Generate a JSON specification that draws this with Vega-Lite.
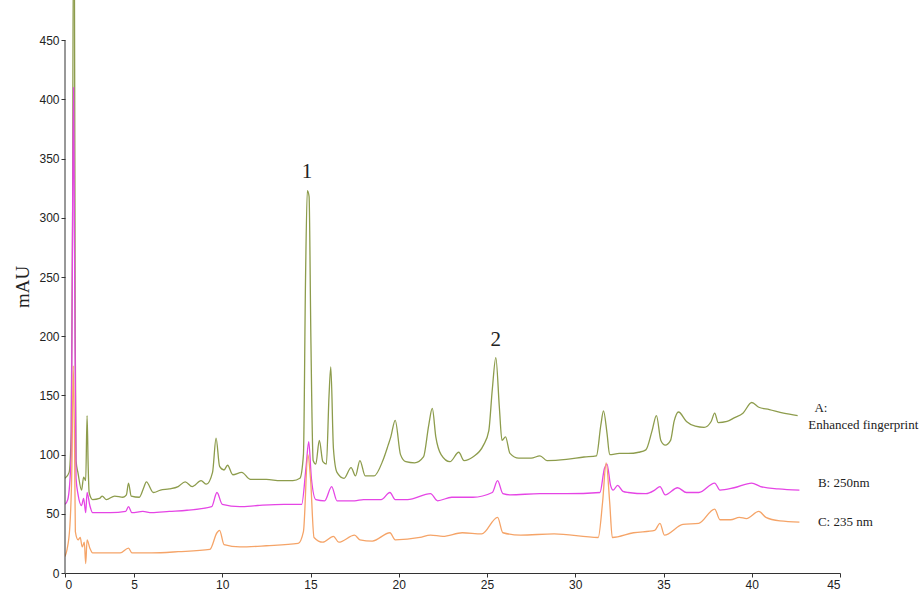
{
  "$schema": "https://vega.github.io/schema/vega-lite/v6.json",
  "width": 775,
  "height": 573,
  "autosize": "none",
  "padding": {"left": 65, "top": 0, "right": 84, "bottom": 19},
  "background": "white",
  "config": {"view": {"stroke": null}, "font": "Liberation Sans"},
  "datasets": {
    "traces": [
      {"s":"A","t":0,"v":80},{"s":"A","t":0.3,"v":85},{"s":"A","t":0.45,"v":120},{"s":"A","t":0.55,"v":300},{"s":"A","t":0.6,"v":520},{"s":"A","t":0.68,"v":520},{"s":"A","t":0.74,"v":200},{"s":"A","t":0.8,"v":95},{"s":"A","t":0.95,"v":84},{"s":"A","t":1.2,"v":70},{"s":"A","t":1.35,"v":81},{"s":"A","t":1.5,"v":78},{"s":"A","t":1.6,"v":133},{"s":"A","t":1.68,"v":90},{"s":"A","t":1.75,"v":68},{"s":"A","t":2,"v":62},{"s":"A","t":2.5,"v":63},{"s":"A","t":2.7,"v":65},{"s":"A","t":3,"v":62},{"s":"A","t":3.6,"v":65},{"s":"A","t":4.2,"v":64},{"s":"A","t":4.45,"v":66},{"s":"A","t":4.6,"v":76},{"s":"A","t":4.8,"v":65},{"s":"A","t":5.3,"v":64},{"s":"A","t":5.55,"v":72},{"s":"A","t":5.7,"v":77},{"s":"A","t":6.1,"v":68},{"s":"A","t":6.5,"v":70},{"s":"A","t":7,"v":71},{"s":"A","t":7.5,"v":73},{"s":"A","t":7.9,"v":77},{"s":"A","t":8.3,"v":73},{"s":"A","t":8.8,"v":78},{"s":"A","t":9.1,"v":75},{"s":"A","t":9.45,"v":85},{"s":"A","t":9.65,"v":114},{"s":"A","t":9.85,"v":90},{"s":"A","t":10.1,"v":87},{"s":"A","t":10.3,"v":91},{"s":"A","t":10.6,"v":83},{"s":"A","t":11.1,"v":85},{"s":"A","t":11.6,"v":79},{"s":"A","t":12.5,"v":79},{"s":"A","t":13.3,"v":78},{"s":"A","t":14,"v":78},{"s":"A","t":14.4,"v":80},{"s":"A","t":14.6,"v":100},{"s":"A","t":14.72,"v":250},{"s":"A","t":14.82,"v":323},{"s":"A","t":14.92,"v":318},{"s":"A","t":15.02,"v":200},{"s":"A","t":15.15,"v":95},{"s":"A","t":15.3,"v":92},{"s":"A","t":15.5,"v":112},{"s":"A","t":15.7,"v":94},{"s":"A","t":15.9,"v":92},{"s":"A","t":16.05,"v":150},{"s":"A","t":16.15,"v":174},{"s":"A","t":16.3,"v":105},{"s":"A","t":16.5,"v":85},{"s":"A","t":16.9,"v":80},{"s":"A","t":17.3,"v":89},{"s":"A","t":17.55,"v":82},{"s":"A","t":17.8,"v":95},{"s":"A","t":18.1,"v":82},{"s":"A","t":18.6,"v":82},{"s":"A","t":19.1,"v":95},{"s":"A","t":19.4,"v":108},{"s":"A","t":19.55,"v":115},{"s":"A","t":19.8,"v":129},{"s":"A","t":20.1,"v":100},{"s":"A","t":20.4,"v":94},{"s":"A","t":20.9,"v":93},{"s":"A","t":21.4,"v":98},{"s":"A","t":21.7,"v":125},{"s":"A","t":21.9,"v":139},{"s":"A","t":22.1,"v":115},{"s":"A","t":22.4,"v":100},{"s":"A","t":22.9,"v":94},{"s":"A","t":23.4,"v":102},{"s":"A","t":23.7,"v":95},{"s":"A","t":24.2,"v":98},{"s":"A","t":24.8,"v":108},{"s":"A","t":25.1,"v":120},{"s":"A","t":25.3,"v":155},{"s":"A","t":25.5,"v":182},{"s":"A","t":25.7,"v":140},{"s":"A","t":25.85,"v":112},{"s":"A","t":26.05,"v":115},{"s":"A","t":26.3,"v":101},{"s":"A","t":26.8,"v":97},{"s":"A","t":27.5,"v":97},{"s":"A","t":28,"v":99},{"s":"A","t":28.4,"v":95},{"s":"A","t":29.5,"v":96},{"s":"A","t":30.5,"v":98},{"s":"A","t":31.2,"v":99},{"s":"A","t":31.45,"v":125},{"s":"A","t":31.6,"v":137},{"s":"A","t":31.8,"v":118},{"s":"A","t":31.95,"v":100},{"s":"A","t":32.5,"v":101},{"s":"A","t":33,"v":101},{"s":"A","t":33.6,"v":102},{"s":"A","t":34,"v":104},{"s":"A","t":34.35,"v":120},{"s":"A","t":34.6,"v":133},{"s":"A","t":34.85,"v":112},{"s":"A","t":35.1,"v":108},{"s":"A","t":35.4,"v":112},{"s":"A","t":35.6,"v":128},{"s":"A","t":35.85,"v":136},{"s":"A","t":36.3,"v":128},{"s":"A","t":36.8,"v":124},{"s":"A","t":37.3,"v":123},{"s":"A","t":37.7,"v":128},{"s":"A","t":37.9,"v":135},{"s":"A","t":38.1,"v":127},{"s":"A","t":38.6,"v":128},{"s":"A","t":39,"v":131},{"s":"A","t":39.5,"v":135},{"s":"A","t":40,"v":144},{"s":"A","t":40.4,"v":140},{"s":"A","t":41,"v":138},{"s":"A","t":41.8,"v":135},{"s":"A","t":42.6,"v":133},
      {"s":"B","t":0,"v":58},{"s":"B","t":0.2,"v":62},{"s":"B","t":0.45,"v":100},{"s":"B","t":0.55,"v":300},{"s":"B","t":0.62,"v":410},{"s":"B","t":0.7,"v":250},{"s":"B","t":0.8,"v":80},{"s":"B","t":0.95,"v":66},{"s":"B","t":1.2,"v":57},{"s":"B","t":1.35,"v":63},{"s":"B","t":1.5,"v":51},{"s":"B","t":1.6,"v":68},{"s":"B","t":1.8,"v":57},{"s":"B","t":2,"v":51},{"s":"B","t":3.3,"v":51},{"s":"B","t":4.4,"v":52},{"s":"B","t":4.6,"v":56},{"s":"B","t":4.85,"v":51},{"s":"B","t":5.5,"v":52},{"s":"B","t":6,"v":51},{"s":"B","t":7,"v":52},{"s":"B","t":8,"v":53},{"s":"B","t":9.4,"v":56},{"s":"B","t":9.7,"v":68},{"s":"B","t":10,"v":58},{"s":"B","t":11,"v":56},{"s":"B","t":12,"v":57},{"s":"B","t":13.5,"v":58},{"s":"B","t":14.5,"v":58},{"s":"B","t":14.75,"v":90},{"s":"B","t":14.9,"v":111},{"s":"B","t":15.05,"v":80},{"s":"B","t":15.3,"v":62},{"s":"B","t":15.8,"v":61},{"s":"B","t":16.2,"v":73},{"s":"B","t":16.5,"v":61},{"s":"B","t":17.5,"v":61},{"s":"B","t":18,"v":62},{"s":"B","t":19,"v":62},{"s":"B","t":19.5,"v":68},{"s":"B","t":19.8,"v":62},{"s":"B","t":20.5,"v":62},{"s":"B","t":21.8,"v":67},{"s":"B","t":22.2,"v":61},{"s":"B","t":23,"v":64},{"s":"B","t":24.2,"v":64},{"s":"B","t":25.3,"v":68},{"s":"B","t":25.6,"v":78},{"s":"B","t":25.9,"v":67},{"s":"B","t":26.3,"v":66},{"s":"B","t":28,"v":67},{"s":"B","t":29.5,"v":67},{"s":"B","t":31.4,"v":68},{"s":"B","t":31.65,"v":88},{"s":"B","t":31.8,"v":92},{"s":"B","t":32,"v":74},{"s":"B","t":32.15,"v":70},{"s":"B","t":32.4,"v":74},{"s":"B","t":32.7,"v":69},{"s":"B","t":33,"v":68},{"s":"B","t":34,"v":67},{"s":"B","t":34.5,"v":70},{"s":"B","t":34.8,"v":73},{"s":"B","t":35.1,"v":66},{"s":"B","t":35.8,"v":72},{"s":"B","t":36.3,"v":68},{"s":"B","t":37,"v":68},{"s":"B","t":37.9,"v":76},{"s":"B","t":38.2,"v":70},{"s":"B","t":39,"v":72},{"s":"B","t":40,"v":76},{"s":"B","t":40.5,"v":73},{"s":"B","t":41.5,"v":71},{"s":"B","t":42.7,"v":70},
      {"s":"C","t":0,"v":14},{"s":"C","t":0.15,"v":20},{"s":"C","t":0.35,"v":39},{"s":"C","t":0.5,"v":90},{"s":"C","t":0.6,"v":175},{"s":"C","t":0.7,"v":100},{"s":"C","t":0.75,"v":35},{"s":"C","t":0.95,"v":28},{"s":"C","t":1.1,"v":30},{"s":"C","t":1.25,"v":22},{"s":"C","t":1.4,"v":26},{"s":"C","t":1.5,"v":8},{"s":"C","t":1.6,"v":28},{"s":"C","t":1.8,"v":21},{"s":"C","t":2,"v":17},{"s":"C","t":2.8,"v":17},{"s":"C","t":4,"v":17},{"s":"C","t":4.6,"v":21},{"s":"C","t":4.85,"v":17},{"s":"C","t":6,"v":17},{"s":"C","t":7.5,"v":18},{"s":"C","t":9.3,"v":20},{"s":"C","t":9.7,"v":34},{"s":"C","t":9.85,"v":36},{"s":"C","t":10.1,"v":24},{"s":"C","t":11,"v":22},{"s":"C","t":12.5,"v":23},{"s":"C","t":14.3,"v":25},{"s":"C","t":14.6,"v":35},{"s":"C","t":14.85,"v":100},{"s":"C","t":15,"v":80},{"s":"C","t":15.2,"v":30},{"s":"C","t":15.7,"v":26},{"s":"C","t":16.3,"v":31},{"s":"C","t":16.6,"v":26},{"s":"C","t":17.5,"v":32},{"s":"C","t":17.8,"v":28},{"s":"C","t":18.5,"v":27},{"s":"C","t":19.5,"v":34},{"s":"C","t":19.8,"v":28},{"s":"C","t":21.2,"v":30},{"s":"C","t":21.8,"v":32},{"s":"C","t":22.5,"v":31},{"s":"C","t":23.6,"v":34},{"s":"C","t":24.7,"v":33},{"s":"C","t":25.6,"v":47},{"s":"C","t":25.9,"v":34},{"s":"C","t":26.9,"v":32},{"s":"C","t":28.8,"v":33},{"s":"C","t":31.3,"v":30},{"s":"C","t":31.55,"v":60},{"s":"C","t":31.75,"v":93},{"s":"C","t":31.95,"v":60},{"s":"C","t":32.1,"v":30},{"s":"C","t":33.3,"v":34},{"s":"C","t":34.5,"v":36},{"s":"C","t":34.8,"v":42},{"s":"C","t":35.05,"v":32},{"s":"C","t":36.1,"v":41},{"s":"C","t":37,"v":42},{"s":"C","t":37.9,"v":54},{"s":"C","t":38.2,"v":45},{"s":"C","t":38.8,"v":45},{"s":"C","t":39.3,"v":47},{"s":"C","t":39.7,"v":46},{"s":"C","t":40.4,"v":52},{"s":"C","t":40.8,"v":47},{"s":"C","t":41.6,"v":44},{"s":"C","t":42.7,"v":43}
    ]
  },
  "layer": [
    {
      "data": {"name": "traces"},
      "mark": {"type": "line", "strokeWidth": 1.3, "clip": true, "interpolate": "monotone"},
      "encoding": {
        "x": {"field": "t", "type": "quantitative",
              "scale": {"type": "linear", "domain": [0, 5, 45], "range": [0, 69, 775], "nice": false, "zero": false},
              "axis": {"values": [0,5,10,15,20,25,30,35,40,45], "title": null, "grid": false, "domainColor": "#333", "tickColor": "#333", "tickSize": 4, "labelFont": "Liberation Sans", "labelFontSize": 12, "labelColor": "#222", "labelPadding": 2}},
        "y": {"field": "v", "type": "quantitative",
              "scale": {"domain": [0, 484], "nice": false, "zero": true},
              "axis": {"values": [0,50,100,150,200,250,300,350,400,450], "title": "mAU", "titleFont": "Liberation Serif", "titleFontSize": 19, "titleFontWeight": "normal", "titleColor": "#222", "titlePadding": 6, "grid": false, "domain": false, "tickColor": "#333", "tickSize": 4, "labelFont": "Liberation Sans", "labelFontSize": 12, "labelColor": "#222", "labelPadding": 2}},
        "color": {"field": "s", "type": "nominal", "legend": null,
                  "scale": {"domain": ["A", "B", "C"], "range": ["#8d9c4c", "#e545e5", "#f5a468"]}},
        "detail": {"field": "s"}
      }
    },
    {
      "data": {"values": [{"t": 0, "v0": 0, "v1": 450}]},
      "mark": {"type": "rule", "color": "#333", "strokeWidth": 1},
      "encoding": {
        "x": {"field": "t", "type": "quantitative"},
        "y": {"field": "v0", "type": "quantitative"},
        "y2": {"field": "v1"}
      }
    },
    {
      "data": {"values": [{"t": 14.8, "v": 339, "label": "1"}, {"t": 25.5, "v": 197, "label": "2"}]},
      "mark": {"type": "text", "font": "Liberation Serif", "fontSize": 21, "color": "#222", "align": "center", "baseline": "middle"},
      "encoding": {
        "x": {"field": "t", "type": "quantitative"},
        "y": {"field": "v", "type": "quantitative"},
        "text": {"field": "label"}
      }
    },
    {
      "data": {"values": [
        {"t": 43.55, "v": 139, "label": "A:"},
        {"t": 43.2, "v": 125, "label": "Enhanced fingerprint"},
        {"t": 43.75, "v": 76, "label": "B: 250nm"},
        {"t": 43.75, "v": 43, "label": "C: 235 nm"}
      ]},
      "mark": {"type": "text", "font": "Liberation Serif", "fontSize": 13, "color": "#222", "align": "left", "baseline": "middle"},
      "encoding": {
        "x": {"field": "t", "type": "quantitative"},
        "y": {"field": "v", "type": "quantitative"},
        "text": {"field": "label"}
      }
    }
  ]
}
